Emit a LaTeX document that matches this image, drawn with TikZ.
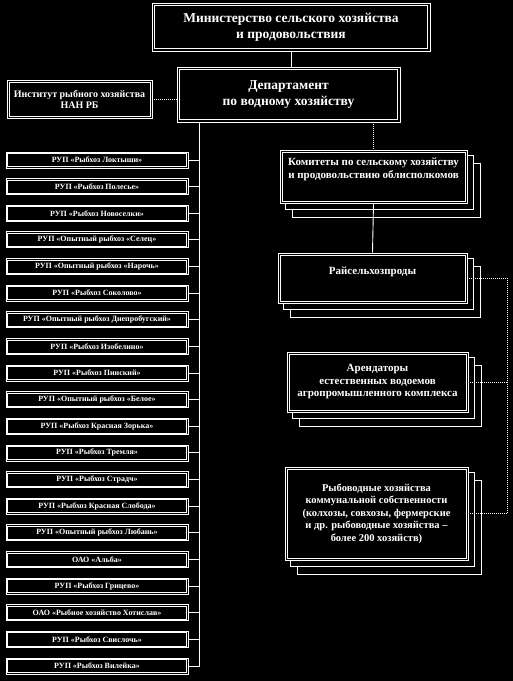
\documentclass[tikz,border=0pt]{standalone}
\usepackage{fontspec}
\setmainfont{Liberation Serif}
\usetikzlibrary{backgrounds}

\tikzset{
  headbox/.style={draw=white, line width=0.9pt, fill=black, text=white, align=center,
    inner sep=0pt, font=\bfseries\fontsize{13.5}{16}\selectfont},
  unitbox/.style={draw=white, line width=0.8pt, fill=black, text=white, inner sep=0pt,
    minimum width=182pt, minimum height=16pt, font=\bfseries\fontsize{8}{9}\selectfont},
  stackbox/.style={draw=white, line width=0.9pt, fill=black, text=white, align=center,
    inner sep=0pt, font=\bfseries\fontsize{11}{12.5}\selectfont},
  innerline/.style={white, line width=0.6pt},
  backsheet/.style={draw=white, line width=0.8pt, fill=black},
  link/.style={white, line width=0.9pt},
  dotlink/.style={white, line width=1pt, densely dotted},
}

% second frame inside a box
\newcommand{\innerframe}[2]{%
  \draw[innerline] ([shift={(#2,#2)}]#1.north west) rectangle ([shift={(-#2,-#2)}]#1.south east);}

% sheets behind a stacked box
\newcommand{\backsheets}[1]{%
  \begin{scope}[on background layer]
    \foreach \dx/\dy in {13/14,6/6}
      \draw[backsheet] ([shift={(\dx,\dy)}]#1.south west) rectangle ([shift={(\dx,\dy)}]#1.north east);
  \end{scope}}

\begin{document}
\begin{tikzpicture}[x=1pt, y=-1pt]
\begin{scope}[on background layer]
  \fill[black] (0,0) rectangle (513,681);
\end{scope}
\useasboundingbox (0,0) rectangle (513,681);

% Ministry and department
\node[headbox, minimum width=278pt, minimum height=48pt] (mins) at (291,27)
  {Министерство сельского хозяйства\\и продовольствия};
\innerframe{mins}{3}
\node[headbox, minimum width=223pt, minimum height=55pt] (dept) at (288.5,94.5)
  {Департамент\\по водному хозяйству};
\innerframe{dept}{3}
\draw[link] (mins.south) -- (mins.south |- dept.north);

% Institute
\node[headbox, minimum width=145pt, minimum height=38pt,
  font=\bfseries\fontsize{10}{11}\selectfont] (inst) at (79.5,99)
  {Институт рыбного хозяйства\\НАН РБ};
\innerframe{inst}{2.5}
\draw[dotlink] (inst.east) -- (inst.east -| dept.west);

% Fish farms
\foreach \i/\txt in {1/{РУП «Рыбхоз Локтыши»}, 2/{РУП «Рыбхоз Полесье»},
    3/{РУП «Рыбхоз Новоселки»}, 4/{РУП «Опытный рыбхоз «Селец»},
    5/{РУП «Опытный рыбхоз «Нарочь»}, 6/{РУП «Рыбхоз Соколово»},
    7/{РУП «Опытный рыбхоз Днепробугский»}, 8/{РУП «Рыбхоз Изобелино»},
    9/{РУП «Рыбхоз Пинский»}, 10/{РУП «Опытный рыбхоз «Белое»},
    11/{РУП «Рыбхоз Красная Зорька»}, 12/{РУП «Рыбхоз Тремля»},
    13/{РУП «Рыбхоз Страдч»}, 14/{РУП «Рыбхоз Красная Слобода»},
    15/{РУП «Опытный рыбхоз Любань»}, 16/{ОАО «Альба»},
    17/{РУП «Рыбхоз Грицево»}, 18/{ОАО «Рыбное хозяйство Хотислав»},
    19/{РУП «Рыбхоз Свислочь»}, 20/{РУП «Рыбхоз Вилейка»}}
  {
  \node[unitbox] (u\i) at (97,{160+(\i-1)*26.63}) {\txt};
  \innerframe{u\i}{1.8}
  }

\coordinate (bus) at ([xshift=23pt]dept.south west);
\draw[link] (bus) -- (bus |- u20.east);
\foreach \i in {1,...,20}
  \draw[link] (u\i.east) -- (u\i.east -| bus);

% Right branch
\node[stackbox, minimum width=187pt, minimum height=53pt] (com) at (373.5,176.5)
  {\raisebox{7pt}[\height][\depth]{\shortstack{Комитеты по сельскому хозяйству\\и продовольствию облисполкомов}}};
\innerframe{com}{2.5}
\backsheets{com}
\node[stackbox, minimum width=189pt, minimum height=50pt] (rai) at (372.5,278)
  {\raisebox{6pt}[\height][\depth]{Райсельхозпроды}};
\innerframe{rai}{2.5}
\backsheets{rai}
\node[stackbox, minimum width=181pt, minimum height=60pt] (arnd) at (377.5,382)
  {Арендаторы\\естественных водоемов\\агропромышленного комплекса};
\innerframe{arnd}{2.5}
\backsheets{arnd}
\node[stackbox, minimum width=183pt, minimum height=93pt,
  font=\bfseries\fontsize{10.5}{12.5}\selectfont] (ryb) at (376.5,513.5)
  {Рыбоводные хозяйства\\коммунальной собственности\\(колхозы, совхозы, фермерские\\и др. рыбоводные хозяйства –\\более 200 хозяйств)};
\innerframe{ryb}{2.5}
\backsheets{ryb}

\draw[dotlink] (com.north |- dept.south) -- (com.north);
\draw[link] (com.south) -- (rai.north);

\coordinate (rbus) at ([xshift=40pt]rai.east);
\draw[dotlink] (rai.east) -- (rbus) -- (rbus |- ryb.east) -- (ryb.east);
\draw[dotlink] (arnd.east) -- (arnd.east -| rbus);
\end{tikzpicture}
\end{document}
